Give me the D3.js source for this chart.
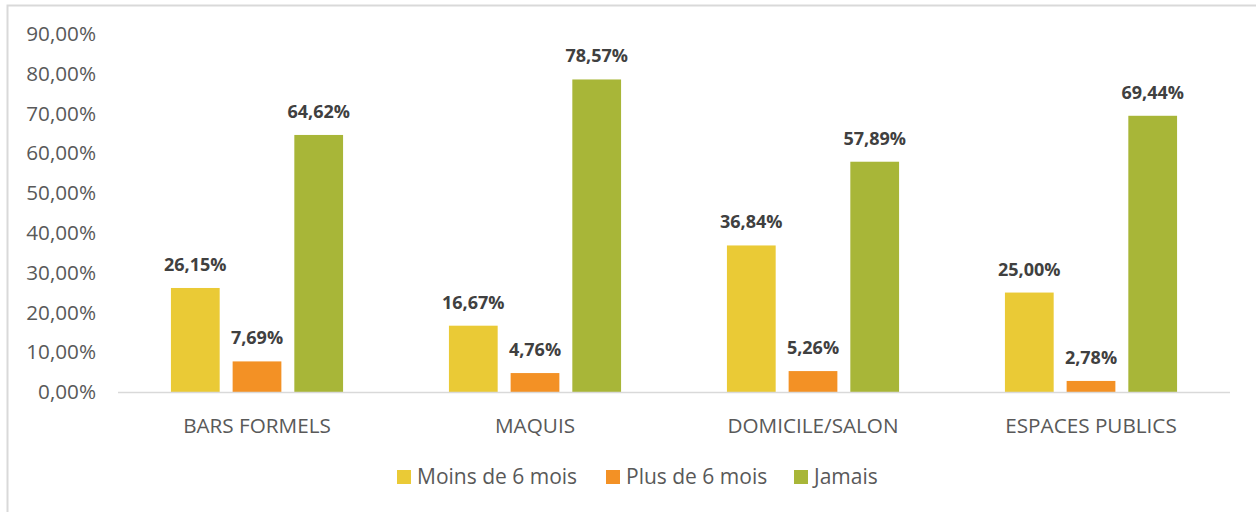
<!DOCTYPE html>
<html>
<head>
<meta charset="utf-8">
<script src="https://cdn.jsdelivr.net/npm/d3@7"></script>
<style>
  html, body { margin: 0; padding: 0; background: #fff; }
  svg { display: block; font-family: "Open Sans", sans-serif; }
</style>
</head>
<body>
<svg id="chart"></svg>
<script>
const categories = ["BARS FORMELS", "MAQUIS", "DOMICILE/SALON", "ESPACES PUBLICS"];
const series = ["Moins de 6 mois", "Plus de 6 mois", "Jamais"];
const moins6 = [26.15, 16.67, 36.84, 25.00];
const plus6 = [7.69, 4.76, 5.26, 2.78];
const jamais = [64.62, 78.57, 57.89, 69.44];
const yTicks = [0, 10, 20, 30, 40, 50, 60, 70, 80, 90];
const colors = ["#EACA36", "#F39125", "#A8B638"];

const width = 1256;
const height = 512;

const values = [moins6, plus6, jamais];
const data = categories.map((c, i) => ({
  cat: c,
  vals: series.map((s, j) => ({ series: s, idx: j, value: values[j][i] }))
}));

const fmt = v => d3.format(".2f")(v).replace(".", ",") + "%";

const svg = d3.select("#chart")
  .attr("width", width)
  .attr("height", height);

// outer frame
svg.append("rect")
  .attr("x", 7.5)
  .attr("y", 5.5)
  .attr("width", width + 20)
  .attr("height", height + 20)
  .attr("fill", "none")
  .attr("stroke", "#d9d9d9")
  .attr("stroke-width", 2);

const x0 = d3.scaleBand()
  .domain(categories)
  .range([118, 1230]);

const x1 = d3.scaleBand()
  .domain(series)
  .range([0, x0.bandwidth()])
  .paddingInner(0.21)
  .paddingOuter(0.858);

const y = d3.scaleLinear()
  .domain([0, 90])
  .range([392, 34]);

const yAxis = d3.axisLeft(y)
  .tickValues(yTicks)
  .tickSize(0)
  .tickPadding(0)
  .tickFormat(d => fmt(d));

const gy = svg.append("g")
  .attr("transform", "translate(96, 0)")
  .call(yAxis);
gy.select(".domain").remove();
gy.selectAll("text")
  .attr("fill", "#595959")
  .style("font-size", "20.7px")
  .style("font-family", "Open Sans");

const groups = svg.selectAll(".grp")
  .data(data)
  .join("g")
  .attr("class", "grp")
  .attr("transform", d => `translate(${x0(d.cat)}, 0)`);

groups.selectAll("rect")
  .data(d => d.vals)
  .join("rect")
  .attr("x", d => x1(d.series))
  .attr("y", d => y(d.value))
  .attr("width", x1.bandwidth())
  .attr("height", d => y(0) - y(d.value))
  .attr("fill", d => colors[d.idx]);

groups.selectAll(".lbl")
  .data(d => d.vals)
  .join("text")
  .attr("class", "lbl")
  .attr("x", d => x1(d.series) + x1.bandwidth() / 2)
  .attr("y", d => y(d.value) - 17)
  .attr("text-anchor", "middle")
  .attr("fill", "#404040")
  .style("font-size", "18px")
  .style("font-weight", "bold")
  .text(d => fmt(d.value));

// baseline
svg.append("line")
  .attr("x1", 118)
  .attr("x2", 1230)
  .attr("y1", y(0) + 0.5)
  .attr("y2", y(0) + 0.5)
  .attr("stroke", "#d9d9d9")
  .attr("stroke-width", 1.5);

const xAxis = d3.axisBottom(x0).tickSize(0).tickPadding(0);
const gx = svg.append("g")
  .attr("transform", "translate(0, 418)")
  .call(xAxis);
gx.select(".domain").remove();
gx.selectAll("text")
  .attr("fill", "#595959")
  .style("font-size", "20.7px")
  .style("font-family", "Open Sans");

// legend
const legendX = [397, 606, 794];
const legend = svg.append("g");
const li = legend.selectAll("g")
  .data(series)
  .join("g")
  .attr("transform", (d, i) => `translate(${legendX[i]}, 470)`);
li.append("rect")
  .attr("width", 14)
  .attr("height", 14)
  .attr("fill", (d, i) => colors[i]);
li.append("text")
  .attr("x", 20)
  .attr("y", 13.5)
  .attr("fill", "#595959")
  .style("font-size", "21px")
  .text(d => d);
</script>
</body>
</html>
